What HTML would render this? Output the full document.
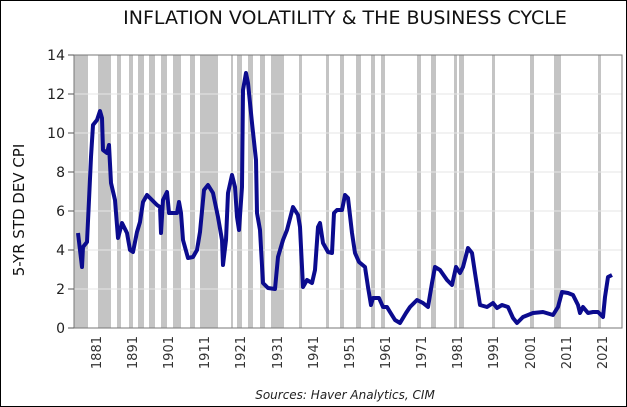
<!DOCTYPE html>
<html><head><style>
body{margin:0;background:#fff}
svg{display:block;font-family:"DejaVu Sans","Liberation Sans",sans-serif}
</style></head><body>
<svg width="627" height="407" viewBox="0 0 627 407">
<rect x="0.5" y="0.5" width="626" height="406" fill="#fff" stroke="#000"/>
<text x="345" y="24" font-size="19" text-anchor="middle" fill="#111">INFLATION VOLATILITY &amp; THE BUSINESS CYCLE</text>
<g fill="#c4c4c4">
<rect x="74" y="55" width="14" height="273"/><rect x="98" y="55" width="13" height="273"/>
<rect x="117" y="55" width="4" height="273"/><rect x="129" y="55" width="4" height="273"/>
<rect x="138" y="55" width="6" height="273"/><rect x="149" y="55" width="6" height="273"/>
<rect x="161" y="55" width="6" height="273"/><rect x="173" y="55" width="8" height="273"/>
<rect x="190" y="55" width="5" height="273"/><rect x="200" y="55" width="18" height="273"/>
<rect x="231" y="55" width="2" height="273"/><rect x="237" y="55" width="5" height="273"/>
<rect x="248" y="55" width="5" height="273"/><rect x="260" y="55" width="5" height="273"/>
<rect x="271" y="55" width="13" height="273"/><rect x="299" y="55" width="3" height="273"/>
<rect x="326" y="55" width="3" height="273"/><rect x="340" y="55" width="4" height="273"/>
<rect x="356" y="55" width="5" height="273"/><rect x="371" y="55" width="4" height="273"/>
<rect x="381" y="55" width="4" height="273"/><rect x="417" y="55" width="4" height="273"/>
<rect x="431" y="55" width="5" height="273"/><rect x="454" y="55" width="3" height="273"/>
<rect x="459" y="55" width="5" height="273"/><rect x="492" y="55" width="3" height="273"/>
<rect x="530" y="55" width="4" height="273"/><rect x="554" y="55" width="7" height="273"/>
<rect x="598" y="55" width="3" height="273"/>
</g>
<g stroke="#e6e6e6" stroke-width="1">
<line x1="74" x2="622" y1="94" y2="94"/><line x1="74" x2="622" y1="133" y2="133"/>
<line x1="74" x2="622" y1="172" y2="172"/><line x1="74" x2="622" y1="211" y2="211"/>
<line x1="74" x2="622" y1="250" y2="250"/><line x1="74" x2="622" y1="289" y2="289"/>
</g>
<rect x="74" y="55" width="548" height="273" fill="none" stroke="#777" stroke-width="1"/>
<g stroke="#555"><line x1="68" x2="74" y1="55" y2="55"/><line x1="68" x2="74" y1="94" y2="94"/><line x1="68" x2="74" y1="133" y2="133"/><line x1="68" x2="74" y1="172" y2="172"/><line x1="68" x2="74" y1="211" y2="211"/><line x1="68" x2="74" y1="250" y2="250"/><line x1="68" x2="74" y1="289" y2="289"/><line x1="68" x2="74" y1="328" y2="328"/></g>
<g font-size="14" fill="#222" text-anchor="end">
<text x="65" y="60">14</text><text x="65" y="99">12</text><text x="65" y="138">10</text><text x="65" y="177">8</text><text x="65" y="216">6</text><text x="65" y="255">4</text><text x="65" y="294">2</text><text x="65" y="333">0</text>
</g>
<text transform="translate(24,210) rotate(-90)" font-size="15" text-anchor="middle" fill="#111">5-YR STD DEV CPI</text>
<g font-size="13" fill="#333" text-anchor="end">
<text transform="translate(101,336) rotate(-90)">1881</text>
<text transform="translate(137,336) rotate(-90)">1891</text>
<text transform="translate(173,336) rotate(-90)">1901</text>
<text transform="translate(209,336) rotate(-90)">1911</text>
<text transform="translate(245,336) rotate(-90)">1921</text>
<text transform="translate(282,336) rotate(-90)">1931</text>
<text transform="translate(318,336) rotate(-90)">1941</text>
<text transform="translate(354,336) rotate(-90)">1951</text>
<text transform="translate(390,336) rotate(-90)">1961</text>
<text transform="translate(426,336) rotate(-90)">1971</text>
<text transform="translate(462,336) rotate(-90)">1981</text>
<text transform="translate(498,336) rotate(-90)">1991</text>
<text transform="translate(535,336) rotate(-90)">2001</text>
<text transform="translate(571,336) rotate(-90)">2011</text>
<text transform="translate(607,336) rotate(-90)">2021</text>
</g>
<polyline fill="none" stroke="#0b0b8e" stroke-width="4" stroke-linejoin="round" points="78,233 82,267 83,247 87,242 89,200 91,157 93,125 97,120 100,111 102,118 103,150 107,153 109,145 111,183 115,200 118,238 122,223 127,233 130,250 133,252 137,232 140,222 143,202 147,195 152,200 157,205 160,207 161,233 163,200 167,192 169,213 173,213 177,213 179,202 181,213 183,240 188,258 193,257 197,250 200,232 204,190 208,185 213,193 218,217 222,240 223,265 226,240 228,193 232,175 235,187 237,217 239,230 242,187 243,90 246,73 248,83 252,123 256,160 257,213 260,230 263,283 268,288 275,289 278,257 283,240 287,230 293,207 298,215 300,227 303,287 307,280 312,283 315,270 318,227 320,223 323,243 328,252 332,253 334,213 337,210 342,210 345,195 348,198 352,233 355,253 359,262 365,267 368,287 371,305 373,298 379,298 383,307 387,307 390,312 395,320 400,323 406,313 410,307 417,300 423,303 428,307 432,283 435,267 440,270 447,280 452,285 456,267 460,273 463,267 468,248 472,253 475,273 480,305 487,307 493,303 497,308 502,305 508,307 513,318 517,323 523,317 533,313 543,312 553,315 558,307 562,292 568,293 573,295 578,305 580,313 583,307 588,313 593,312 598,312 603,317 605,297 608,277 612,275"/>
<text x="345" y="399" font-size="12" font-style="italic" text-anchor="middle" fill="#222">Sources: Haver Analytics, CIM</text>
</svg>
</body></html>
